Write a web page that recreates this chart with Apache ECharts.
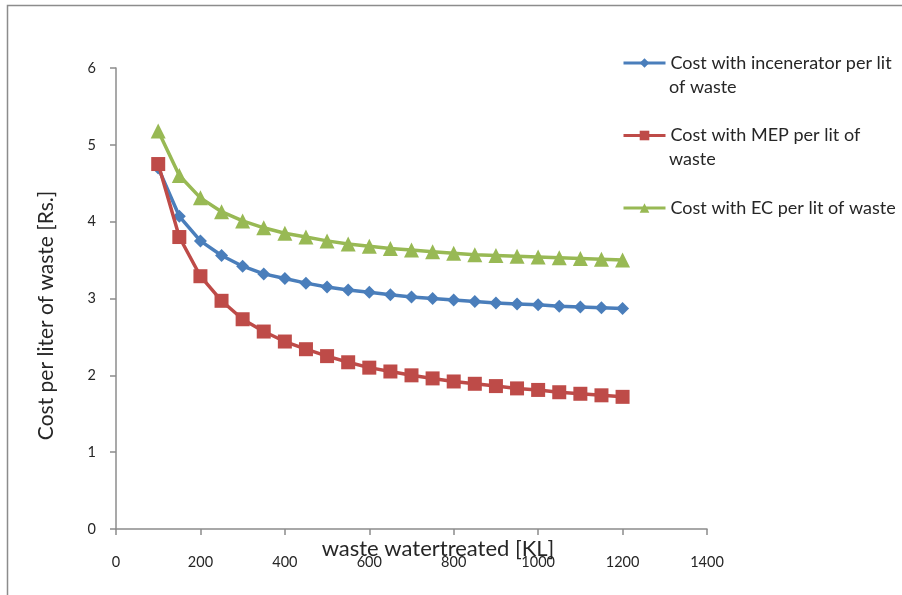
<!DOCTYPE html>
<html>
<head>
<meta charset="utf-8">
<script src="https://cdn.jsdelivr.net/npm/echarts@6/dist/echarts.min.js"></script>
<style>html,body{margin:0;padding:0;background:#fff}#c{width:902px;height:595px}</style>
</head>
<body>
<div id="c"></div>
<script>
var xValues = [100,150,200,250,300,350,400,450,500,550,600,650,700,750,800,850,900,950,1000,1050,1100,1150,1200];
var incinerator = [4.70,4.07,3.75,3.56,3.42,3.32,3.26,3.20,3.15,3.11,3.08,3.05,3.02,3.00,2.98,2.96,2.94,2.93,2.92,2.90,2.89,2.88,2.87];
var mep = [4.75,3.80,3.29,2.97,2.73,2.57,2.44,2.34,2.25,2.17,2.10,2.05,2.00,1.96,1.92,1.89,1.86,1.83,1.81,1.78,1.76,1.74,1.72];
var ec = [5.18,4.60,4.31,4.13,4.01,3.92,3.85,3.80,3.75,3.71,3.68,3.65,3.63,3.61,3.59,3.57,3.56,3.55,3.54,3.53,3.52,3.51,3.50];
var seriesNames = ['Cost with incenerator per lit of waste','Cost with MEP per lit of waste','Cost with EC per lit of waste'];
var legendFirstLines = ['Cost with incenerator per lit','Cost with MEP per lit of','Cost with EC per lit of waste'];
var legendSecondLines = ['of waste','waste',''];

function pairs(ys){ return xValues.map(function(x,i){ return [x, ys[i]]; }); }

var font = 'Lato';
var textColor = '#262626';
var legendTop = 46, legendStep = 72.5, legendFont = 18;

var graphics = [{ type: 'rect', shape: { x: 7.5, y: 5.5, width: 1000, height: 1000 }, style: { fill: 'none', stroke: '#8c8c8c', lineWidth: 1.5 }, silent: true }];
legendSecondLines.forEach(function(t, i){
  if (!t) return;
  graphics.push({ type: 'text', x: 669, y: legendTop + 17 + 24 + i * legendStep,
    style: { text: t, fontFamily: font, fontSize: legendFont, fill: textColor, verticalAlign: 'middle', align: 'left' } });
});

var chart = echarts.init(document.getElementById('c'));
chart.setOption({
  animation: false,
  textStyle: { fontFamily: font },
  graphic: graphics,
  grid: { left: 116, right: 195, top: 68, bottom: 66 },
  legend: {
    orient: 'vertical', left: 617, top: legendTop, itemGap: legendStep - 24, itemWidth: 42, itemHeight: 12,
    data: seriesNames,
    lineStyle: { width: 3 },
    formatter: function(n){ return legendFirstLines[seriesNames.indexOf(n)]; },
    textStyle: { fontFamily: font, fontSize: legendFont, color: textColor, lineHeight: 24 }
  },
  xAxis: {
    type: 'value', min: 0, max: 1400, interval: 200,
    name: 'waste watertreated [KL]', nameLocation: 'middle', nameGap: 9, nameMoveOverlap: false,
    nameTextStyle: { fontFamily: font, fontSize: 22, color: textColor, padding: [0,0,0,53], verticalAlign: 'top' },
    axisLine: { show: true, lineStyle: { color: '#8c8c8c', width: 1.5 } },
    axisTick: { show: true, length: 6, lineStyle: { color: '#8c8c8c', width: 1.5 } },
    axisLabel: { margin: 26, fontSize: 14.5, color: textColor, fontFamily: font, formatter: function(v){ return String(v); } },
    splitLine: { show: false }
  },
  yAxis: {
    type: 'value', min: 0, max: 6, interval: 1,
    name: 'Cost per liter of waste [Rs.]', nameLocation: 'middle', nameGap: 59, nameMoveOverlap: false,
    nameTextStyle: { fontFamily: font, fontSize: 21, color: textColor, padding: [0,34,0,0] },
    axisLine: { show: true, lineStyle: { color: '#8c8c8c', width: 1.5 } },
    axisTick: { show: true, length: 6, lineStyle: { color: '#8c8c8c', width: 1.5 } },
    axisLabel: { margin: 20, fontSize: 14.5, color: textColor, fontFamily: font },
    splitLine: { show: false }
  },
  series: [
    { name: seriesNames[0], type: 'line', data: pairs(incinerator), symbol: 'diamond', symbolSize: 13,
      itemStyle: { color: '#4a7ebb' }, lineStyle: { width: 3.5, color: '#4a7ebb' }, z: 3 },
    { name: seriesNames[1], type: 'line', data: pairs(mep), symbol: 'rect', symbolSize: 14,
      itemStyle: { color: '#be4b48' }, lineStyle: { width: 3.5, color: '#be4b48' }, z: 4 },
    { name: seriesNames[2], type: 'line', data: pairs(ec), symbol: 'triangle', symbolSize: 15,
      itemStyle: { color: '#98b954' }, lineStyle: { width: 3.5, color: '#98b954' }, z: 2 }
  ]
});
</script>
</body>
</html>
